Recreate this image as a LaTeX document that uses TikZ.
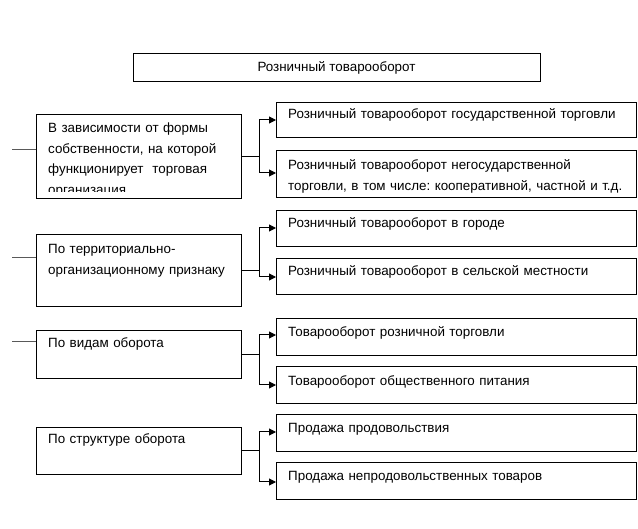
\documentclass[tikz,border=0pt]{standalone}
\usepackage{fontspec}
\setmainfont{Liberation Sans}
\usetikzlibrary{arrows.meta}
\frenchspacing
\tikzset{
  box/.style={draw, line width=1pt, anchor=north west, inner sep=0pt, minimum width=#1},
  box/.default=360pt,
  txt/.style={anchor=base west, inner sep=0pt, text width=350pt, align=left},
  ltxt/.style={anchor=base west, inner sep=0pt, text width=192pt, align=left},
  arr/.style={line width=1pt, -{Triangle[length=7pt,width=7pt]}},
  stub/.style={line width=1pt, black!65},
}
\begin{document}
\begin{tikzpicture}[x=1pt,y=-1pt,font=\fontsize{13.4}{20.5}\selectfont\frenchspacing]
\useasboundingbox[fill=white] (0,0) rectangle (638,529);

% top
\node[draw, line width=1pt, minimum width=407pt, minimum height=28pt, inner sep=0pt] (top) at (336.5,68) {Розничный товарооборот};

% left boxes
\node[box=205pt, minimum height=84pt] (b1) at (36,114) {};
\node[box=205pt, minimum height=72pt] (b2) at (36,234) {};
\node[box=205pt, minimum height=48pt] (b3) at (36,330) {};
\node[box=205pt, minimum height=47pt] (b4) at (36,427) {};

\begin{scope}
\clip (36,114) rectangle (241,192);
\node[ltxt] (t1) at (48,133) {В зависимости от формы\\собственности, на которой\\функционирует\ \ торговая\\организация};
\end{scope}
\node[ltxt] (t2) at (48,254) {По территориально-\\организационному признаку};
\node[ltxt] (t3) at (48,348) {По видам оборота};
\node[ltxt] (t4) at (48,444) {По структуре оборота};

% right boxes
\node[box, minimum height=35pt] (r1a) at (276,102) {};
\node[box, minimum height=47pt] (r1b) at (276,150) {};
\node[box, minimum height=36pt] (r2a) at (276,210) {};
\node[box, minimum height=36pt] (r2b) at (276,258) {};
\node[box, minimum height=37pt] (r3a) at (276,318) {};
\node[box, minimum height=37pt] (r3b) at (276,366) {};
\node[box, minimum height=37pt] (r4a) at (276,414) {};
\node[box, minimum height=37pt] (r4b) at (276,462) {};

\node[txt] (u1a) at (288,119) {Розничный товарооборот государственной торговли};
\node[txt] (u1b) at (288,170) {Розничный товарооборот негосударственной\\торговли, в том числе: кооперативной, частной и т.д.};
\node[txt] (u2a) at (288,228) {Розничный товарооборот в городе};
\node[txt] (u2b) at (288,276) {Розничный товарооборот в сельской местности};
\node[txt] (u3a) at (288,337) {Товарооборот розничной торговли};
\node[txt] (u3b) at (288,386) {Товарооборот общественного питания};
\node[txt] (u4a) at (288,433) {Продажа продовольствия};
\node[txt] (u4b) at (288,481) {Продажа непродовольственных товаров};

% connectors
\draw[arr] (b1.east) -- ++(17pt,0) |- ([yshift=-18pt]r1a.north west);
\draw[arr] (b1.east) -- ++(17pt,0) |- ([yshift=-23pt]r1b.north west);
\draw[arr] (b2.east) -- ++(17pt,0) |- ([yshift=-18pt]r2a.north west);
\draw[arr] (b2.east) -- ++(17pt,0) |- ([yshift=-19pt]r2b.north west);
\draw[arr] (b3.east) -- ++(17pt,0) |- ([yshift=-17pt]r3a.north west);
\draw[arr] (b3.east) -- ++(17pt,0) |- ([yshift=-19pt]r3b.north west);
\draw[arr] (b4.east) -- ++(17pt,0) |- ([yshift=-18pt]r4a.north west);
\draw[arr] (b4.east) -- ++(17pt,0) |- ([yshift=-20pt]r4b.north west);

% stubs
\coordinate (s1) at (12,150);
\coordinate (s2) at (12,258);
\coordinate (s3) at (12,342);
\draw[stub] (s1) -- (s1 -| b1.west);
\draw[stub] (s2) -- (s2 -| b2.west);
\draw[stub] (s3) -- (s3 -| b3.west);
\end{tikzpicture}
\end{document}
